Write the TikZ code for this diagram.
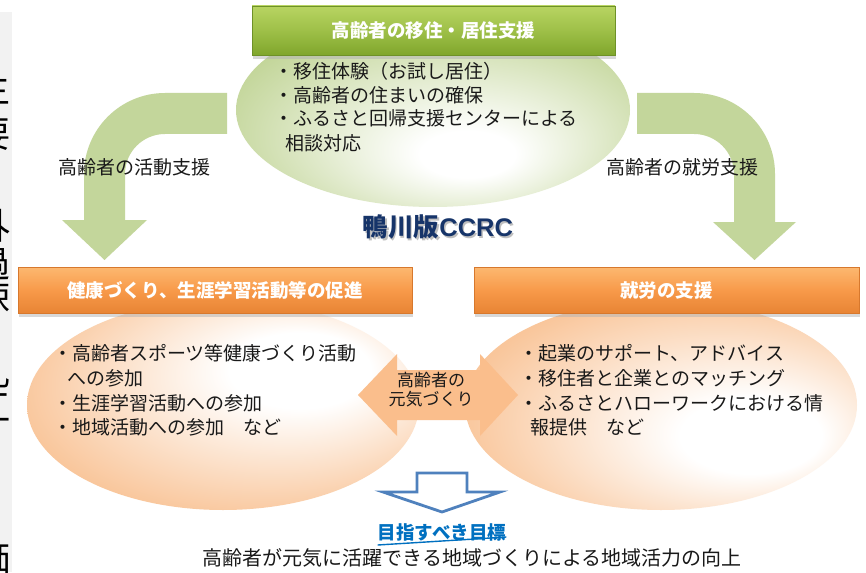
\documentclass[tikz,border=0pt]{standalone}
\usepackage{fontspec}
\setmainfont{Noto Sans CJK JP}
\newfontfamily\latinb{Liberation Sans}
\usetikzlibrary{shapes.geometric,shadows}
\newcommand\fsz[1]{\fontsize{#1}{#1}\selectfont}
\definecolor{ellgreen}{RGB}{194,213,152}
\definecolor{arrgreen}{RGB}{195,214,155}
\definecolor{ellorange}{RGB}{249,198,155}
\definecolor{arrorange}{RGB}{250,190,140}
\definecolor{ccrcblue}{RGB}{22,52,105}
\definecolor{goalblue}{RGB}{0,112,192}
\definecolor{outblue}{RGB}{79,129,189}
\definecolor{txt}{RGB}{25,25,25}
\definecolor{gtop}{RGB}{184,212,98}
\definecolor{gmid}{RGB}{158,192,72}
\definecolor{gbot}{RGB}{128,166,44}
\definecolor{gdraw}{RGB}{110,145,40}
\definecolor{otop}{RGB}{252,184,112}
\definecolor{omid}{RGB}{248,154,74}
\definecolor{obot}{RGB}{232,132,52}
\definecolor{odraw}{RGB}{215,120,45}
\definecolor{stripgray}{RGB}{242,242,242}
\pgfdeclareradialshading{shgreen}{\pgfpoint{5bp}{-13bp}}{color(0bp)=(white); color(6bp)=(white); color(30bp)=(ellgreen); color(50bp)=(ellgreen)}
\pgfdeclareradialshading{shorangeL}{\pgfpoint{12bp}{10bp}}{color(0bp)=(white); color(9bp)=(white); color(31bp)=(ellorange); color(50bp)=(ellorange)}
\pgfdeclareradialshading{shorangeR}{\pgfpoint{14bp}{-9bp}}{color(0bp)=(white); color(9bp)=(white); color(31bp)=(ellorange); color(50bp)=(ellorange)}
\tikzset{
  titlebox/.style={rectangle, inner sep=0pt, text=white, font=\bfseries\fsz{18.5},
    drop shadow={shadow xshift=1pt, shadow yshift=-4pt, fill=black!30}},
  greenbox/.style={titlebox, top color=gtop, bottom color=gbot, middle color=gmid, draw=gdraw, line width=0.8pt},
  orangebox/.style={titlebox, top color=otop, bottom color=obot, middle color=omid, draw=odraw, line width=0.8pt},
  blob/.style={ellipse, inner sep=0pt, draw=none},
  item/.style={anchor=base west, inner sep=0pt, font=\fsz{19}, text=txt},
  lbl/.style={inner sep=0pt, font=\fsz{19}, text=txt},
  stripchar/.style={inner sep=0pt, font=\fsz{36}, text=black},
}
\begin{document}
\begin{tikzpicture}[x=1pt,y=-1pt]
\useasboundingbox (0,0) rectangle (866,572);
\fill[white] (0,0) rectangle (866,572);
% left strip (glyphs cut by the page edge, as in the reference)
\fill[stripgray] (0,12) rectangle (12,572);
\begin{scope}
\clip (0,12) rectangle (12,572);
\node[stripchar] (s1) at (-7,88) {主};
\node[stripchar] (s2) at (-7,135) {要};
\node[stripchar] (s3) at (-7,226) {外};
\node[stripchar] (s4) at (-7,264) {過};
\node[stripchar] (s5) at (-7,297) {疎};
\node[stripchar] (s6) at (-7,372) {乱};
\node[stripchar] (s7) at (-7,407) {江};
\node[stripchar] (s8) at (-7,558) {価};
\end{scope}
% ellipses
\node[blob, shading=shgreen, minimum width=394pt, minimum height=194pt] (topell) at (433,110) {};
\node[blob, shading=shorangeL, minimum width=392pt, minimum height=210pt] (leftell) at (223,405) {};
\node[blob, shading=shorangeR, minimum width=392pt, minimum height=210pt] (rightell) at (661,405) {};
% curved arrows
\fill[arrgreen] (227,93) -- (165,93) arc[start angle=270,end angle=180,radius=81]
  -- (84,220) -- (62,220) -- (104.5,260) -- (147,220) -- (125,220) -- (125,174)
  arc[start angle=180,end angle=270,radius=40] -- (227,134) -- cycle;
\fill[arrgreen] (637,93) -- (694,93) arc[start angle=270,end angle=360,radius=81]
  -- (775,222) -- (796,222) -- (754.5,260) -- (713,222) -- (734,222) -- (734,174)
  arc[start angle=0,end angle=-90,radius=40] -- (637,134) -- cycle;
% title boxes
\node[greenbox, minimum width=363pt, minimum height=49pt] (topbox) at (433.5,30.5) {高齢者の移住・居住支援};
\node[orangebox, minimum width=394pt, minimum height=46pt] (leftbox) at (215,290) {健康づくり、生涯学習活動等の促進};
\node[orangebox, minimum width=385pt, minimum height=46pt] (rightbox) at (666.5,290) {就労の支援};
% top list
\node[item] (a1) at (274,79) {・移住体験（お試し居住）};
\node[item] (a2) at (274,103) {・高齢者の住まいの確保};
\node[item] (a3) at (274,126) {・ふるさと回帰支援センターによる};
\node[item] (a4) at (285,150) {相談対応};
% side labels
\node[lbl] (lact) at (134,167) {高齢者の活動支援};
\node[lbl] (lwork) at (682,167) {高齢者の就労支援};
% CCRC
\node[inner sep=0pt, font=\bfseries\fsz{25.5}, text=black!25] (ccrcsh) at (439.5,228.5) {鴨川版{\latinb\bfseries CCRC}};
\node[inner sep=0pt, font=\bfseries\fsz{25.5}, text=ccrcblue] (ccrc) at (438,227) {鴨川版{\latinb\bfseries CCRC}};
% left list
\node[item] (b1) at (53,360) {・高齢者スポーツ等健康づくり活動};
\node[item] (b2) at (67,385) {への参加};
\node[item] (b3) at (53,410) {・生涯学習活動への参加};
\node[item] (b4) at (53,434) {・地域活動への参加　など};
% right list
\node[item] (c1) at (519,360) {・起業のサポート、アドバイス};
\node[item] (c2) at (519,385) {・移住者と企業とのマッチング};
\node[item] (c3) at (519,410) {・ふるさとハローワークにおける情};
\node[item] (c4) at (530,434) {報提供　など};
% double arrow
\fill[arrorange] (358,395) -- (397,354) -- (397,370) -- (480,370) -- (480,354) -- (518,395)
  -- (480,436) -- (480,420) -- (397,420) -- (397,436) -- cycle;
\node[inner sep=0pt, font=\fsz{17}, text=txt, align=center] (genki) at (431,389.5) {高齢者の\\[2pt]元気づくり};
% blue outline arrow
\draw[outblue, line width=2.8pt, fill=white, line join=miter] (417,473) -- (467,473) -- (467,492) -- (500,492)
  -- (442,512) -- (383,492) -- (417,492) -- cycle;
% goal
\node[inner sep=0pt, font=\bfseries\fsz{18.5}, text=goalblue] (goal) at (442,532) {目指すべき目標};
\draw[goalblue, line width=1.4pt] (goal.south west) ++(0,4) -- ([yshift=4pt]goal.south east);
\node[inner sep=0pt, font=\fsz{20}, text=txt] (result) at (472,558) {高齢者が元気に活躍できる地域づくりによる地域活力の向上};
\end{tikzpicture}
\end{document}
